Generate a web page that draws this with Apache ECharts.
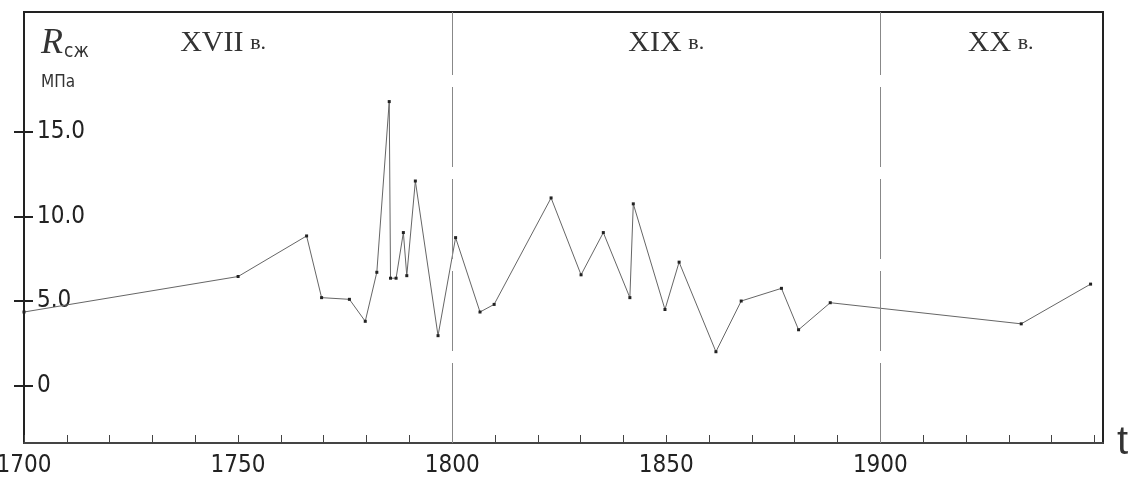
<!DOCTYPE html>
<html>
<head>
<meta charset="utf-8">
<script src="https://cdn.jsdelivr.net/npm/echarts@6.0.0/dist/echarts.min.js"></script>
<style>
  html, body { margin: 0; background: #fff; }
  #chart { width: 1134px; height: 485px; }
</style>
</head>
<body>
<div id="chart"></div>
<script>
// данные: год и прочность на сжатие, МПа
const years = [1700, 1750, 1766, 1769.5, 1776, 1779.7, 1782.4, 1785.3, 1785.6, 1786.9,
  1788.6, 1789.4, 1791.4, 1796.7, 1800.8, 1806.5, 1809.8, 1823.1, 1830.1, 1835.3,
  1841.5, 1842.3, 1849.7, 1853, 1861.6, 1867.5, 1876.9, 1880.9, 1888.3, 1932.9, 1949.1];
const strength = [4.35, 6.45, 8.85, 5.2, 5.1, 3.8, 6.7, 16.8, 6.35, 6.35,
  9.05, 6.5, 12.1, 2.95, 8.75, 4.35, 4.8, 11.1, 6.55, 9.05,
  5.2, 10.75, 4.5, 7.3, 2.0, 5.0, 5.75, 3.3, 4.9, 3.65, 6.0];

// оси
const yTicks = [0, 5, 10, 15];
const xLabels = [1700, 1750, 1800, 1850, 1900];
const xTicks = [1700, 1710, 1720, 1730, 1740, 1750, 1760, 1770, 1780, 1790, 1800, 1810,
  1820, 1830, 1840, 1850, 1860, 1870, 1880, 1890, 1900, 1910, 1920, 1930, 1940, 1950];

// века
const centuries = ['XVII', 'XIX', 'XX'];
const centuryBounds = [[1700, 1800], [1800, 1900], [1900, 1952]];
const centuryShift = [-15, 0, 9];
const centuryLines = [1800, 1900];

const narrow = '"Liberation Sans Narrow", "DejaVu Sans Condensed", sans-serif';
const serif = '"Liberation Serif", "DejaVu Serif", serif';

const myChart = echarts.init(document.getElementById('chart'));

const yRange = { min: -3.4, max: 22.1 };

const option = {
  animation: false,
  backgroundColor: '#fff',
  title: {
    left: 36,
    top: 17,
    text: '{r|R}{s|сж}\n{u|МПа}',
    textStyle: {
      fontWeight: 'normal',
      rich: {
        r: { fontFamily: serif, fontStyle: 'italic', fontWeight: 'normal', fontSize: 36, color: '#333', lineHeight: 40, verticalAlign: 'bottom' },
        s: { fontFamily: narrow, fontWeight: 'normal', fontSize: 19, color: '#333', lineHeight: 40, verticalAlign: 'bottom', padding: [0, 0, 0, 1] },
        u: { fontFamily: narrow, fontWeight: 'normal', fontSize: 17, color: '#333', lineHeight: 42 }
      }
    }
  },
  grid: {
    left: 24, right: 31, top: 12, bottom: 42,
    outerBoundsMode: 'none',
    containLabel: false,
    show: true,
    borderColor: '#222',
    borderWidth: 2
  },
  xAxis: {
    type: 'value',
    min: 1700,
    max: 1952,
    name: 't',
    nameLocation: 'end',
    nameGap: 14,
    nameTextStyle: { fontFamily: '"Liberation Sans", sans-serif', fontSize: 40, color: '#333', verticalAlign: 'middle' },
    axisLine: { show: true, onZero: false, lineStyle: { color: '#444', width: 2 } },
    axisTick: { show: true, inside: true, length: 8, customValues: xTicks, lineStyle: { color: '#444', width: 1 } },
    axisLabel: {
      customValues: xLabels,
      margin: 11,
      fontFamily: narrow,
      fontSize: 24,
      color: '#222',
      formatter: (v) => String(v)
    },
    splitLine: { show: false }
  },
  yAxis: [
    {
      type: 'value',
      min: yRange.min,
      max: yRange.max,
      axisLine: { show: true, onZero: false, lineStyle: { color: '#222', width: 2 } },
      axisTick: { show: true, length: 10, customValues: yTicks, lineStyle: { color: '#222', width: 2 } },
      axisLabel: {
        inside: true,
        margin: 13,
        customValues: yTicks,
        fontFamily: narrow,
        fontSize: 24,
        color: '#222',
        formatter: (v) => (v === 0 ? '0' : v.toFixed(1))
      },
      splitLine: { show: false }
    },
    {
      // внутренние засечки
      type: 'value',
      position: 'left',
      min: yRange.min,
      max: yRange.max,
      axisLine: { show: false },
      axisTick: { show: true, inside: true, length: 9, customValues: yTicks, lineStyle: { color: '#222', width: 2 } },
      axisLabel: { show: false },
      splitLine: { show: false }
    }
  ],
  series: [
    {
      type: 'line',
      data: years.map((y, i) => [y, strength[i]]),
      symbol: 'rect',
      symbolSize: 3,
      itemStyle: { color: '#222' },
      lineStyle: { color: '#666', width: 1 },
      z: 3,
      markLine: {
        silent: true,
        symbol: 'none',
        label: { show: false },
        lineStyle: { color: '#888', width: 1, type: [80, 12] },
        data: centuryLines.map((x) => ({ xAxis: x }))
      },
      markArea: {
        silent: true,
        itemStyle: { color: 'rgba(0,0,0,0)' },
        label: {
          show: true,
          position: 'insideTop',
          distance: 14,
          rich: {
            r: { fontFamily: serif, fontSize: 30, color: '#333', lineHeight: 34 },
            s: { fontFamily: serif, fontSize: 22, color: '#333', lineHeight: 34 }
          }
        },
        data: centuries.map((c, i) => [
          {
            xAxis: centuryBounds[i][0],
            label: { formatter: '{r|' + c + '}  {s|в.}', offset: [centuryShift[i], 0] }
          },
          { xAxis: centuryBounds[i][1] }
        ])
      }
    }
  ]
};

option && myChart.setOption(option);
</script>
</body>
</html>
